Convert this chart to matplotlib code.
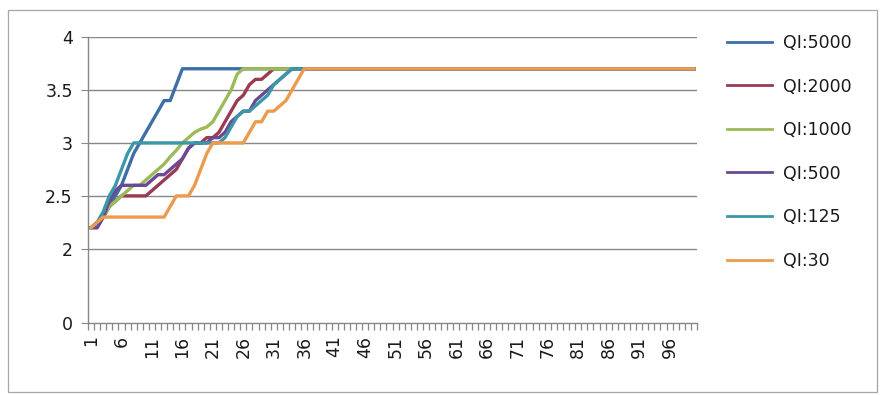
import matplotlib
matplotlib.use("Agg")
import matplotlib.pyplot as plt
from matplotlib.patches import Rectangle

plt.rcParams['font.family'] = ['DejaVu Sans']

categories = list(range(1, 101))

qi_5000 = [2.2, 2.2, 2.3, 2.4, 2.5, 2.6, 2.75, 2.9, 3.0, 3.1,
           3.2, 3.3, 3.4, 3.4, 3.55, 3.7, 3.7, 3.7, 3.7, 3.7,
           3.7, 3.7, 3.7, 3.7, 3.7, 3.7, 3.7, 3.7, 3.7, 3.7,
           3.7, 3.7, 3.7, 3.7, 3.7, 3.7, 3.7, 3.7, 3.7, 3.7,
           3.7, 3.7, 3.7, 3.7, 3.7, 3.7, 3.7, 3.7, 3.7, 3.7,
           3.7, 3.7, 3.7, 3.7, 3.7, 3.7, 3.7, 3.7, 3.7, 3.7,
           3.7, 3.7, 3.7, 3.7, 3.7, 3.7, 3.7, 3.7, 3.7, 3.7,
           3.7, 3.7, 3.7, 3.7, 3.7, 3.7, 3.7, 3.7, 3.7, 3.7,
           3.7, 3.7, 3.7, 3.7, 3.7, 3.7, 3.7, 3.7, 3.7, 3.7,
           3.7, 3.7, 3.7, 3.7, 3.7, 3.7, 3.7, 3.7, 3.7, 3.7]

qi_2000 = [2.2, 2.25, 2.3, 2.4, 2.45, 2.5, 2.5, 2.5, 2.5, 2.5,
           2.55, 2.6, 2.65, 2.7, 2.75, 2.85, 2.95, 3.0, 3.0, 3.05,
           3.05, 3.1, 3.2, 3.3, 3.4, 3.45, 3.55, 3.6, 3.6, 3.65,
           3.7, 3.7, 3.7, 3.7, 3.7, 3.7, 3.7, 3.7, 3.7, 3.7,
           3.7, 3.7, 3.7, 3.7, 3.7, 3.7, 3.7, 3.7, 3.7, 3.7,
           3.7, 3.7, 3.7, 3.7, 3.7, 3.7, 3.7, 3.7, 3.7, 3.7,
           3.7, 3.7, 3.7, 3.7, 3.7, 3.7, 3.7, 3.7, 3.7, 3.7,
           3.7, 3.7, 3.7, 3.7, 3.7, 3.7, 3.7, 3.7, 3.7, 3.7,
           3.7, 3.7, 3.7, 3.7, 3.7, 3.7, 3.7, 3.7, 3.7, 3.7,
           3.7, 3.7, 3.7, 3.7, 3.7, 3.7, 3.7, 3.7, 3.7, 3.7]

qi_1000 = [2.2, 2.25, 2.3, 2.4, 2.45, 2.5, 2.55, 2.6, 2.6, 2.65,
           2.7, 2.75, 2.8, 2.87, 2.93, 3.0, 3.05, 3.1, 3.13, 3.15,
           3.2, 3.3, 3.4, 3.5, 3.65, 3.7, 3.7, 3.7, 3.7, 3.7,
           3.7, 3.7, 3.7, 3.7, 3.7, 3.7, 3.7, 3.7, 3.7, 3.7,
           3.7, 3.7, 3.7, 3.7, 3.7, 3.7, 3.7, 3.7, 3.7, 3.7,
           3.7, 3.7, 3.7, 3.7, 3.7, 3.7, 3.7, 3.7, 3.7, 3.7,
           3.7, 3.7, 3.7, 3.7, 3.7, 3.7, 3.7, 3.7, 3.7, 3.7,
           3.7, 3.7, 3.7, 3.7, 3.7, 3.7, 3.7, 3.7, 3.7, 3.7,
           3.7, 3.7, 3.7, 3.7, 3.7, 3.7, 3.7, 3.7, 3.7, 3.7,
           3.7, 3.7, 3.7, 3.7, 3.7, 3.7, 3.7, 3.7, 3.7, 3.7]

qi_500 = [2.2, 2.2, 2.3, 2.45, 2.55, 2.6, 2.6, 2.6, 2.6, 2.6,
          2.65, 2.7, 2.7, 2.75, 2.8, 2.85, 2.95, 3.0, 3.0, 3.0,
          3.05, 3.05, 3.1, 3.2, 3.25, 3.3, 3.3, 3.4, 3.45, 3.5,
          3.55, 3.6, 3.65, 3.7, 3.7, 3.7, 3.7, 3.7, 3.7, 3.7,
          3.7, 3.7, 3.7, 3.7, 3.7, 3.7, 3.7, 3.7, 3.7, 3.7,
          3.7, 3.7, 3.7, 3.7, 3.7, 3.7, 3.7, 3.7, 3.7, 3.7,
          3.7, 3.7, 3.7, 3.7, 3.7, 3.7, 3.7, 3.7, 3.7, 3.7,
          3.7, 3.7, 3.7, 3.7, 3.7, 3.7, 3.7, 3.7, 3.7, 3.7,
          3.7, 3.7, 3.7, 3.7, 3.7, 3.7, 3.7, 3.7, 3.7, 3.7,
          3.7, 3.7, 3.7, 3.7, 3.7, 3.7, 3.7, 3.7, 3.7, 3.7]

qi_125 = [2.2, 2.25, 2.35, 2.5, 2.6, 2.75, 2.9, 3.0, 3.0, 3.0,
          3.0, 3.0, 3.0, 3.0, 3.0, 3.0, 3.0, 3.0, 3.0, 3.0,
          3.0, 3.0, 3.05, 3.15, 3.25, 3.3, 3.3, 3.35, 3.4, 3.45,
          3.55, 3.6, 3.65, 3.7, 3.7, 3.7, 3.7, 3.7, 3.7, 3.7,
          3.7, 3.7, 3.7, 3.7, 3.7, 3.7, 3.7, 3.7, 3.7, 3.7,
          3.7, 3.7, 3.7, 3.7, 3.7, 3.7, 3.7, 3.7, 3.7, 3.7,
          3.7, 3.7, 3.7, 3.7, 3.7, 3.7, 3.7, 3.7, 3.7, 3.7,
          3.7, 3.7, 3.7, 3.7, 3.7, 3.7, 3.7, 3.7, 3.7, 3.7,
          3.7, 3.7, 3.7, 3.7, 3.7, 3.7, 3.7, 3.7, 3.7, 3.7,
          3.7, 3.7, 3.7, 3.7, 3.7, 3.7, 3.7, 3.7, 3.7, 3.7]

qi_30 = [2.2, 2.25, 2.3, 2.3, 2.3, 2.3, 2.3, 2.3, 2.3, 2.3,
         2.3, 2.3, 2.3, 2.4, 2.5, 2.5, 2.5, 2.6, 2.75, 2.9,
         3.0, 3.0, 3.0, 3.0, 3.0, 3.0, 3.1, 3.2, 3.2, 3.3,
         3.3, 3.35, 3.4, 3.5, 3.6, 3.7, 3.7, 3.7, 3.7, 3.7,
         3.7, 3.7, 3.7, 3.7, 3.7, 3.7, 3.7, 3.7, 3.7, 3.7,
         3.7, 3.7, 3.7, 3.7, 3.7, 3.7, 3.7, 3.7, 3.7, 3.7,
         3.7, 3.7, 3.7, 3.7, 3.7, 3.7, 3.7, 3.7, 3.7, 3.7,
         3.7, 3.7, 3.7, 3.7, 3.7, 3.7, 3.7, 3.7, 3.7, 3.7,
         3.7, 3.7, 3.7, 3.7, 3.7, 3.7, 3.7, 3.7, 3.7, 3.7,
         3.7, 3.7, 3.7, 3.7, 3.7, 3.7, 3.7, 3.7, 3.7, 3.7]

series_names = ["QI:5000", "QI:2000", "QI:1000", "QI:500", "QI:125", "QI:30"]
series_values = [qi_5000, qi_2000, qi_1000, qi_500, qi_125, qi_30]
series_colors = ["#3F6EA6", "#9A3B52", "#9BBB59", "#6A4A93", "#3A98A8", "#EC9A4E"]

ytick_values = [1.3, 2.0, 2.5, 3.0, 3.5, 4.0]
ytick_labels = ["0", "2", "2.5", "3", "3.5", "4"]
xtick_labels = [str(c) for c in categories[::5]]

W, H = 885, 395
fig = plt.figure(figsize=(W / 100, H / 100), dpi=100)
fig.patches.append(Rectangle((8 / W, 1 - 392 / H), (877 - 8) / W, (392 - 10) / H,
                             transform=fig.transFigure, fill=False,
                             edgecolor="#A6A6A6", linewidth=0.9))

ax = fig.add_axes([88 / W, 1 - 323 / H, (697 - 88) / W, (323 - 37) / H])
grid_c = "#878787"
for yv in ytick_values[1:]:
    ax.axhline(yv, color=grid_c, linewidth=1.0, zorder=1)

for name, vals, col in zip(series_names, series_values, series_colors):
    ax.plot(categories, vals, color=col, linewidth=2.4, label=name,
            solid_joinstyle="round", zorder=3)

ax.set_xlim(0.5, 100.5)
ax.set_ylim(ytick_values[0], ytick_values[-1])

for s in ["top", "right"]:
    ax.spines[s].set_visible(False)
for s in ["left", "bottom"]:
    ax.spines[s].set_color(grid_c)
    ax.spines[s].set_linewidth(1.0)

ax.set_yticks(ytick_values)
ax.set_yticklabels(ytick_labels)
ax.tick_params(axis="y", length=5, color=grid_c, labelsize=12.5, pad=6,
               labelcolor="#1A1A1A")

ax.set_xticks(categories[::5])
ax.set_xticklabels(xtick_labels, rotation=90)
ax.set_xticks([c - 0.5 for c in categories] + [100.5], minor=True)
ax.tick_params(axis="x", which="major", length=0, labelsize=12.5, pad=9,
               labelcolor="#1A1A1A")
ax.tick_params(axis="x", which="minor", length=5, color=grid_c, width=0.9)

leg = ax.legend(loc="upper left", bbox_to_anchor=(727 / W, 1 - 34 / H),
                bbox_transform=fig.transFigure, frameon=False,
                fontsize=12.5, handlelength=2.6, handletextpad=0.6,
                labelspacing=1.47, borderaxespad=0, borderpad=0)
for t in leg.get_texts():
    t.set_color("#1A1A1A")
for ln in leg.get_lines():
    ln.set_linewidth(2.0)

fig.savefig("out.png", dpi=100)
